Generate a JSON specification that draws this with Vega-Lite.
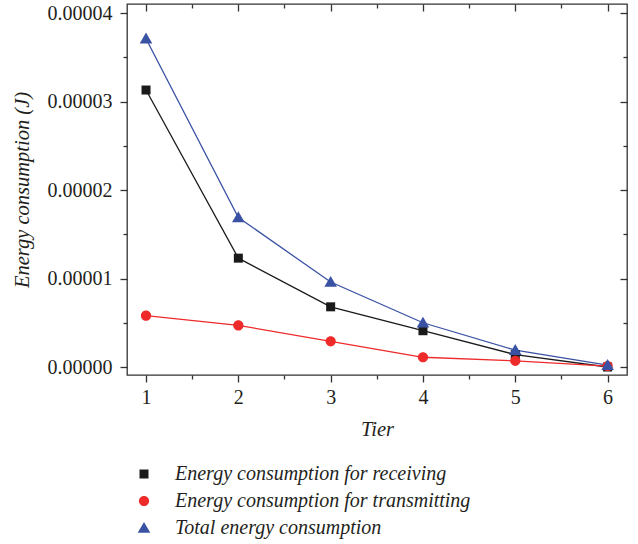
{
  "$schema": "https://vega.github.io/schema/vega-lite/v6.json",
  "width": 500,
  "height": 371,
  "autosize": "none",
  "padding": {"left": 127, "top": 4, "right": 11, "bottom": 169},
  "background": "white",
  "config": {
    "view": {"stroke": "#333333", "strokeWidth": 1.3},
    "axis": {
      "grid": false,
      "domain": false,
      "tickColor": "#333333",
      "tickWidth": 1.3,
      "labelFont": "Liberation Serif",
      "labelFontSize": 20,
      "labelColor": "#231f20",
      "titleFont": "Liberation Serif",
      "titleFontSize": 20.5,
      "titleFontStyle": "italic",
      "titleFontWeight": "normal",
      "titleColor": "#231f20"
    },
    "legend": {
      "orient": "none",
      "title": null,
      "padding": 0,
      "rowPadding": -8,
      "labelOffset": 14,
      "labelFont": "Liberation Serif",
      "labelFontSize": 20,
      "labelFontStyle": "italic",
      "labelColor": "#231f20",
      "labelLimit": 500,
      "symbolSize": 1156,
      "symbolStrokeWidth": 0
    }
  },
  "data": {
    "values": [
      {"Tier": 1, "Energy": 0.0000313, "Series": "Energy consumption for receiving"},
      {"Tier": 2, "Energy": 0.0000123, "Series": "Energy consumption for receiving"},
      {"Tier": 3, "Energy": 0.0000068, "Series": "Energy consumption for receiving"},
      {"Tier": 4, "Energy": 0.0000041, "Series": "Energy consumption for receiving"},
      {"Tier": 5, "Energy": 0.0000014, "Series": "Energy consumption for receiving"},
      {"Tier": 6, "Energy": 0.0000000, "Series": "Energy consumption for receiving"},
      {"Tier": 1, "Energy": 0.0000058, "Series": "Energy consumption for transmitting"},
      {"Tier": 2, "Energy": 0.0000047, "Series": "Energy consumption for transmitting"},
      {"Tier": 3, "Energy": 0.0000029, "Series": "Energy consumption for transmitting"},
      {"Tier": 4, "Energy": 0.0000011, "Series": "Energy consumption for transmitting"},
      {"Tier": 5, "Energy": 0.0000007, "Series": "Energy consumption for transmitting"},
      {"Tier": 6, "Energy": 0.0000001, "Series": "Energy consumption for transmitting"},
      {"Tier": 1, "Energy": 0.0000371, "Series": "Total energy consumption"},
      {"Tier": 2, "Energy": 0.0000169, "Series": "Total energy consumption"},
      {"Tier": 3, "Energy": 0.0000096, "Series": "Total energy consumption"},
      {"Tier": 4, "Energy": 0.0000050, "Series": "Total energy consumption"},
      {"Tier": 5, "Energy": 0.0000019, "Series": "Total energy consumption"},
      {"Tier": 6, "Energy": 0.0000002, "Series": "Total energy consumption"}
    ]
  },
  "resolve": {"axis": {"x": "independent", "y": "independent"}},
  "layer": [
    {
      "mark": {"type": "line", "strokeWidth": 1.3},
      "encoding": {
        "x": {
          "field": "Tier", "type": "quantitative",
          "scale": {"domain": [0.794, 6.21], "nice": false, "zero": false},
          "axis": {"orient": "bottom", "values": [1, 2, 3, 4, 5, 6], "tickSize": 7, "labelPadding": 5, "title": "Tier", "titlePadding": 12}
        },
        "y": {
          "field": "Energy", "type": "quantitative",
          "scale": {"domain": [-0.000000904, 0.00004102], "nice": false, "zero": false},
          "axis": {"orient": "left", "values": [0, 0.00001, 0.00002, 0.00003, 0.00004], "format": ".5f", "tickSize": 7, "labelPadding": 8, "title": "Energy consumption (J)", "titlePadding": 15}
        },
        "stroke": {
          "field": "Series", "type": "nominal",
          "scale": {
            "domain": ["Energy consumption for receiving", "Energy consumption for transmitting", "Total energy consumption"],
            "range": ["#1a1a1a", "#ee2a2a", "#3a52a3"]
          },
          "legend": {"legendX": 0, "legendY": 453}
        }
      }
    },
    {
      "mark": {"type": "point", "filled": true, "opacity": 1, "size": 1156, "strokeWidth": 0},
      "encoding": {
        "x": {"field": "Tier", "type": "quantitative", "axis": null},
        "y": {"field": "Energy", "type": "quantitative", "axis": null},
        "fill": {
          "field": "Series", "type": "nominal",
          "scale": {
            "domain": ["Energy consumption for receiving", "Energy consumption for transmitting", "Total energy consumption"],
            "range": ["#1a1a1a", "#ee2a2a", "#3a52a3"]
          },
          "legend": {"legendX": 0, "legendY": 453}
        },
        "shape": {
          "field": "Series", "type": "nominal",
          "scale": {
            "domain": ["Energy consumption for receiving", "Energy consumption for transmitting", "Total energy consumption"],
            "range": ["M-0.265,-0.265H0.265V0.265H-0.265Z", "M0.3,0A0.3,0.3 0 1,1 -0.3,0A0.3,0.3 0 1,1 0.3,0Z", "M0,-0.36L0.37,0.28H-0.37Z"]
          },
          "legend": {"legendX": 0, "legendY": 453}
        }
      }
    },
    {
      "mark": {"type": "point", "opacity": 0},
      "encoding": {
        "x": {"field": "Tier", "type": "quantitative", "axis": {"orient": "bottom", "values": [1.5, 2.5, 3.5, 4.5, 5.5], "labels": false, "tickSize": 4, "title": null}},
        "y": {"field": "Energy", "type": "quantitative", "axis": {"orient": "left", "values": [0.000005, 0.000015, 0.000025, 0.000035], "labels": false, "tickSize": 4, "title": null}}
      }
    },
    {
      "mark": {"type": "point", "opacity": 0},
      "encoding": {
        "x": {"field": "Tier", "type": "quantitative", "axis": {"orient": "top", "values": [1, 2, 3, 4, 5, 6], "labels": false, "tickSize": -7, "title": null}},
        "y": {"field": "Energy", "type": "quantitative", "axis": {"orient": "right", "values": [0, 0.00001, 0.00002, 0.00003, 0.00004], "labels": false, "tickSize": -7, "title": null}}
      }
    },
    {
      "mark": {"type": "point", "opacity": 0},
      "encoding": {
        "x": {"field": "Tier", "type": "quantitative", "axis": {"orient": "top", "values": [1.5, 2.5, 3.5, 4.5, 5.5], "labels": false, "tickSize": -4, "title": null}},
        "y": {"field": "Energy", "type": "quantitative", "axis": {"orient": "right", "values": [0.000005, 0.000015, 0.000025, 0.000035], "labels": false, "tickSize": -4, "title": null}}
      }
    }
  ]
}
